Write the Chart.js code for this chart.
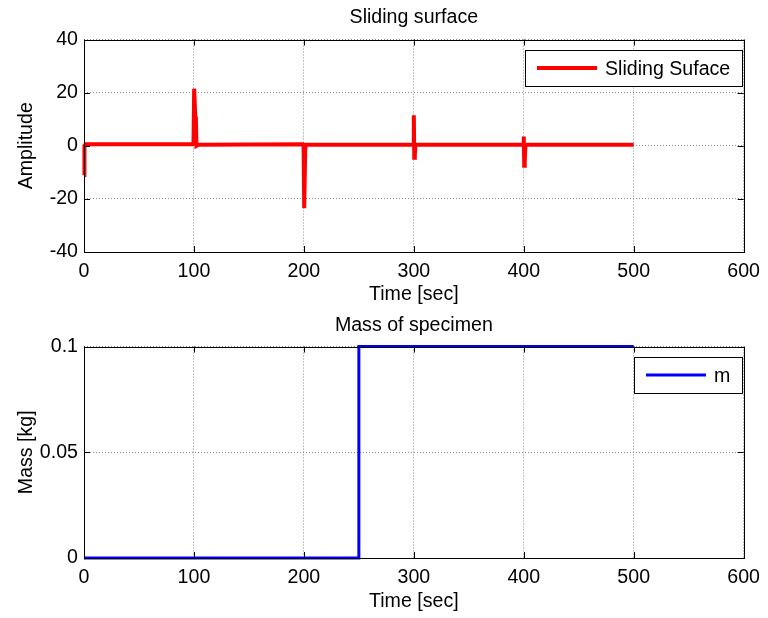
<!DOCTYPE html>
<html>
<head>
<meta charset="utf-8">
<script src="https://cdn.jsdelivr.net/npm/chart.js@4.4.0/dist/chart.umd.min.js"></script>
<style>
  html, body { margin: 0; padding: 0; background: #fff; }
  .box { position: absolute; left: 0; width: 768px; height: 309px; }
</style>
</head>
<body>
<div class="box" style="top:0"><canvas id="cSliding" width="768" height="309"></canvas></div>
<div class="box" style="top:309px"><canvas id="cMass" width="768" height="309"></canvas></div>
<script>
// sliding surface (time in sec, amplitude)
const slidingTime = [0, 0.4, 1.5, 99, 99.6, 100.2, 101.2, 101.8, 102.3, 104, 199, 199.7, 200.3, 201.2, 202, 204,
  299, 299.6, 300, 300.4, 300.9, 301.5, 303, 399, 399.6, 400, 400.4, 400.9, 401.5, 403, 500];
const slidingVal = [-11, 0, 0.6, 0.6, 0.8, 21.5, 11, 10, 0, 0.4, 0.6, 0.5, -23.5, -1, 0.4, 0.4,
  0.5, 0.3, 11.5, -4.5, -3.5, 0.2, 0.4, 0.4, 0.3, 3.5, -7.5, -6, 0.2, 0.4, 0.4];

// mass of specimen (time in sec, kg)
const massTime = [0, 250, 250, 500];
const massVal = [0, 0, 0.1, 0.1];

const timeTicks = [0, 100, 200, 300, 400, 500, 600];
const ampTicks = [-40, -20, 0, 20, 40];
const massTicks = [0, 0.05, 0.1];

const FONT = { family: "'Liberation Sans', Arial, sans-serif", size: 19.6 };

// MATLAB style box, inner ticks and legend inside the axes
const matlabFrame = {
  id: 'matlabFrame',
  afterDraw(chart) {
    const { ctx, chartArea: a, scales: { x, y } } = chart;
    ctx.save();
    ctx.strokeStyle = '#000';
    ctx.lineWidth = 1;
    ctx.beginPath();
    x.ticks.forEach(t => {
      const px = Math.round(x.getPixelForValue(t.value)) + 0.5;
      ctx.moveTo(px, a.bottom); ctx.lineTo(px, a.bottom - 6);
      ctx.moveTo(px, a.top); ctx.lineTo(px, a.top + 6);
    });
    y.ticks.forEach(t => {
      const py = Math.round(y.getPixelForValue(t.value)) + 0.5;
      ctx.moveTo(a.left, py); ctx.lineTo(a.left + 6, py);
      ctx.moveTo(a.right, py); ctx.lineTo(a.right - 6, py);
    });
    ctx.stroke();
    ctx.strokeRect(Math.round(a.left) + 0.5, Math.round(a.top) + 0.5, Math.round(a.width), Math.round(a.height));

    // legend
    const ds = chart.data.datasets[0];
    ctx.font = FONT.size + 'px ' + FONT.family;
    const tw = ctx.measureText(ds.label).width;
    const w = Math.round(12 + 60 + 8 + tw + 12), h = 36;
    const bx = Math.round(a.right - 2 - w), by = Math.round(a.top + 10);
    ctx.fillStyle = '#fff';
    ctx.fillRect(bx, by, w, h);
    ctx.strokeRect(bx + 0.5, by + 0.5, w, h);
    ctx.strokeStyle = ds.borderColor;
    ctx.lineWidth = ds.borderWidth;
    ctx.beginPath();
    ctx.moveTo(bx + 12, by + h / 2);
    ctx.lineTo(bx + 72, by + h / 2);
    ctx.stroke();
    ctx.fillStyle = '#000';
    ctx.textBaseline = 'middle';
    ctx.fillText(ds.label, bx + 80, by + h / 2 + 2);
    ctx.restore();
  }
};

function makeChart(id, opt) {
  return new Chart(document.getElementById(id), {
    type: 'line',
    data: {
      datasets: [{
        label: opt.label,
        data: opt.xs.map((t, i) => ({ x: t, y: opt.ys[i] })),
        borderColor: opt.color,
        borderWidth: opt.width,
        pointRadius: 0,
        tension: 0,
        fill: false,
        clip: false
      }]
    },
    options: {
      responsive: false,
      animation: false,
      layout: { padding: { left: 0, right: 24, top: 0, bottom: 0 } },
      plugins: {
        legend: { display: false },
        tooltip: { enabled: false },
        title: {
          display: true,
          text: opt.title,
          color: '#000',
          fullSize: false,
          font: { ...FONT, weight: 'normal' },
          padding: opt.titlePad
        }
      },
      scales: {
        x: {
          type: 'linear',
          min: 0, max: 600,
          afterBuildTicks: s => { s.ticks = timeTicks.map(v => ({ value: v })); },
          afterFit: s => { s.height = opt.xAxisH; },
          grid: { color: '#8a8a8a', lineWidth: 1, drawTicks: false },
          border: { display: false, dash: [1, 2] },
          ticks: { color: '#000', font: FONT, padding: 8, maxRotation: 0, callback: v => String(v) },
          title: { display: true, text: 'Time [sec]', color: '#000', font: FONT, padding: { top: 0, bottom: opt.xTitleBottom } }
        },
        y: {
          type: 'linear',
          min: opt.yMin, max: opt.yMax,
          afterBuildTicks: s => { s.ticks = opt.yTicks.map(v => ({ value: v })); },
          afterFit: s => { s.width = 84; },
          grid: { color: '#8a8a8a', lineWidth: 1, drawTicks: false },
          border: { display: false, dash: [1, 2] },
          ticks: { color: '#000', font: FONT, padding: 6, callback: v => String(v) },
          title: { display: true, text: opt.yTitle, color: '#000', font: FONT, padding: { top: 15, bottom: 0 } }
        }
      }
    },
    plugins: [matlabFrame]
  });
}

makeChart('cSliding', {
  label: 'Sliding Suface', xs: slidingTime, ys: slidingVal, color: '#ff0000', width: 4,
  title: 'Sliding surface', titlePad: { top: 6, bottom: 10 },
  yMin: -40, yMax: 40, yTicks: ampTicks, yTitle: 'Amplitude',
  xAxisH: 57, xTitleBottom: 3
});

makeChart('cMass', {
  label: 'm', xs: massTime, ys: massVal, color: '#0000ff', width: 3,
  title: 'Mass of specimen', titlePad: { top: 5, bottom: 9 },
  yMin: 0, yMax: 0.1, yTicks: massTicks, yTitle: 'Mass [kg]',
  xAxisH: 60, xTitleBottom: 5
});
</script>
</body>
</html>
